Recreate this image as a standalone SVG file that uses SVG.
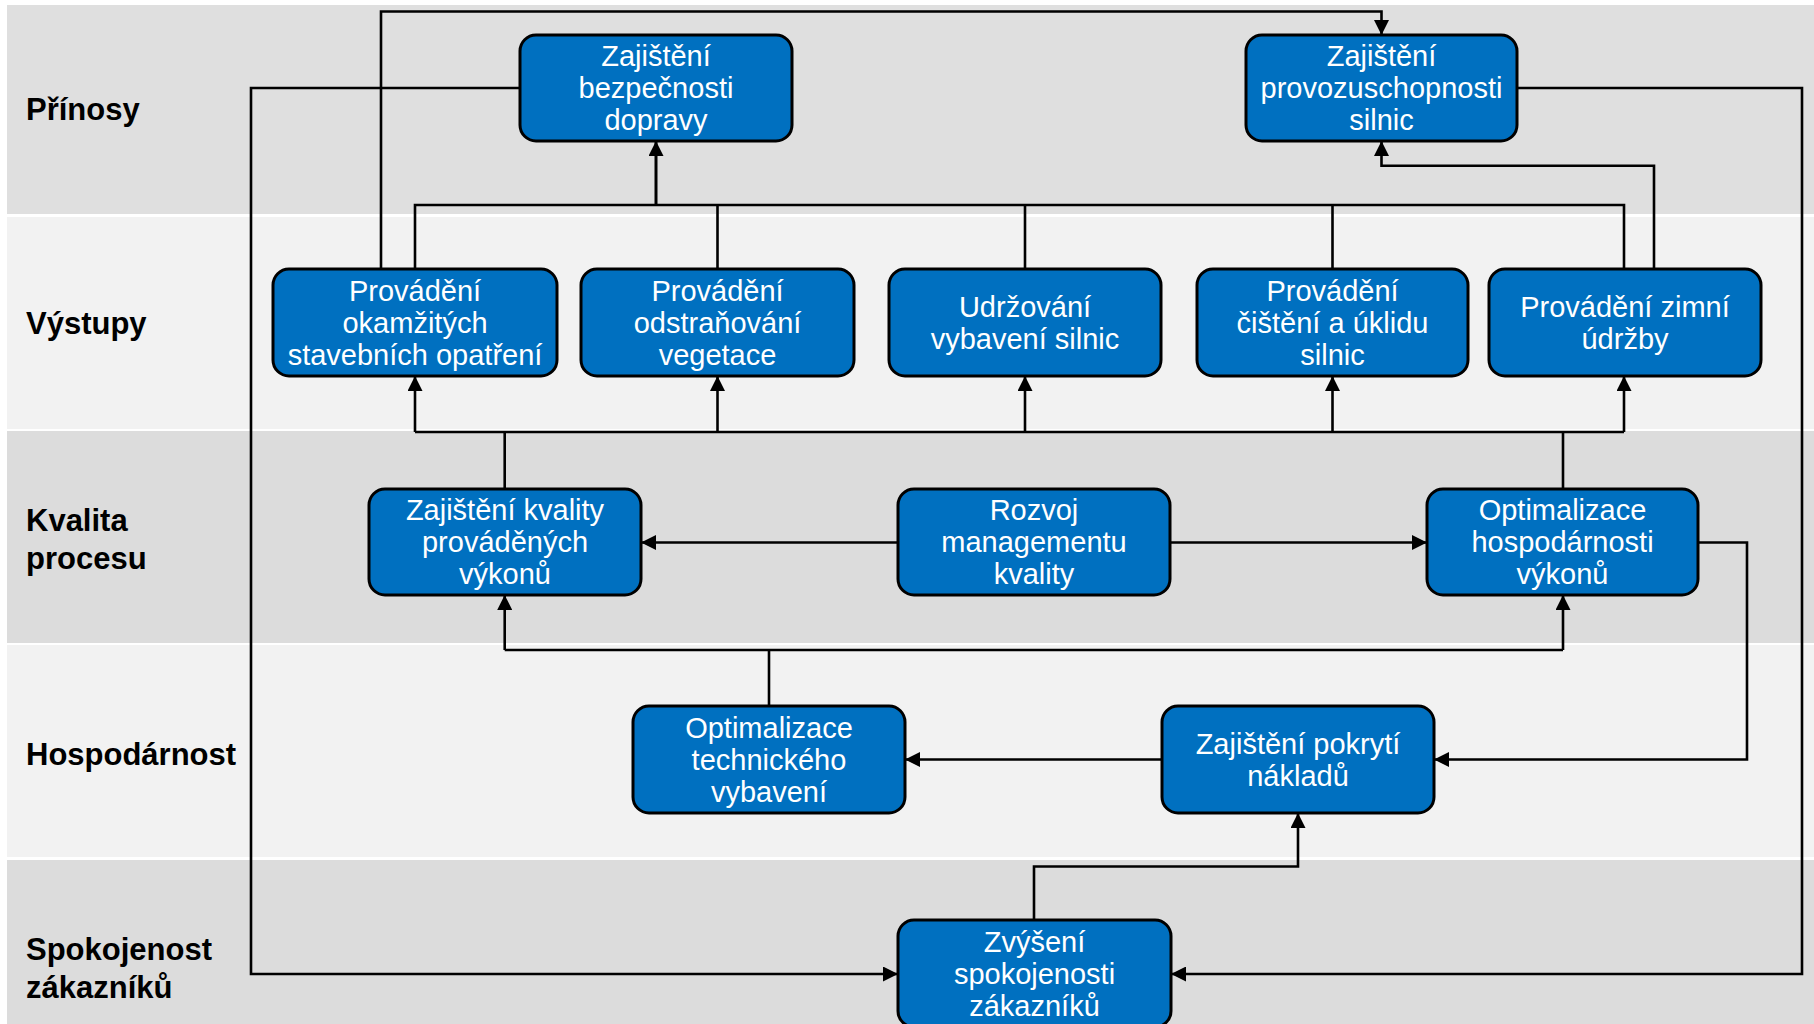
<svg xmlns="http://www.w3.org/2000/svg" width="1814" height="1024" viewBox="0 0 1814 1024">
<style>
.band-d{fill:#dcdcdc}
.band-t{fill:#dfdfdf}
.band-l{fill:#f2f2f2}
.lbl{font-family:"Liberation Sans",Arial,sans-serif;font-size:31px;font-weight:bold;fill:#000}
.box{fill:#0070c0;stroke:#000;stroke-width:3}
.txt{font-family:"Liberation Sans",Arial,sans-serif;font-size:29px;fill:#fff;text-anchor:middle}
.c{fill:none;stroke:#000;stroke-width:2.6;stroke-linejoin:miter}
.a{marker-end:url(#arr)}
</style>
<defs>
<marker id="arr" markerUnits="userSpaceOnUse" markerWidth="15" markerHeight="15" refX="14" refY="7" orient="auto" viewBox="0 0 14 14">
<path d="M0,0 L14,7 L0,14 z" fill="#000"/>
</marker>
</defs>
<rect width="1814" height="1024" fill="#fff"/>
<g id="bands">
<rect class="band-t" x="7" y="5" width="1807" height="209"/>
<rect class="band-l" x="7" y="217" width="1807" height="212"/>
<rect class="band-d" x="7" y="431" width="1807" height="212"/>
<rect class="band-l" x="7" y="645" width="1807" height="212"/>
<rect class="band-d" x="7" y="860" width="1807" height="164"/>
<text class="lbl" x="26" y="120">Přínosy</text>
<text class="lbl" x="26" y="334">Výstupy</text>
<text class="lbl" x="26" y="531">Kvalita</text>
<text class="lbl" x="26" y="569">procesu</text>
<text class="lbl" x="26" y="765">Hospodárnost</text>
<text class="lbl" x="26" y="960">Spokojenost</text>
<text class="lbl" x="26" y="998">zákazníků</text>
</g>
<g id="connectors">
<path class="c a" d="M381,269 V11.5 H1381.5 V35"/>
<path class="c a" d="M520,88 H251 V974 H898"/>
<path class="c a" d="M1517,88 H1802 V974 H1171"/>
<path class="c" d="M415,269 V205 H1624 V269"/>
<path class="c" d="M717.5,269 V205 M1025,269 V205 M1332.5,269 V205"/>
<path class="c a" d="M656,205 V141" style="stroke-width:3"/>
<path class="c a" d="M1654,269 V165.7 H1381.5 V141"/>
<path class="c" d="M415,432 H1624 M504.7,489 V432 M1563,489 V432"/>
<path class="c a" d="M415,432 V376"/>
<path class="c a" d="M717.5,432 V376"/>
<path class="c a" d="M1025,432 V376"/>
<path class="c a" d="M1332.5,432 V376"/>
<path class="c a" d="M1624,432 V376"/>
<path class="c a" d="M898,542.5 H641"/>
<path class="c a" d="M1170,542.5 H1427"/>
<path class="c" d="M504.7,650 H1563 M769,706 V650"/>
<path class="c a" d="M504.7,650 V595"/>
<path class="c a" d="M1563,650 V595"/>
<path class="c a" d="M1698,542.5 H1747 V759.5 H1434"/>
<path class="c a" d="M1162,759.5 H905"/>
<path class="c a" d="M1034,920 V866.5 H1298 V813"/>
</g>
<g id="n-bezpecnost">
<rect class="box" x="520" y="35" width="272" height="106" rx="16"/>
<text class="txt" x="656" y="66">Zajištění</text>
<text class="txt" x="656" y="98">bezpečnosti</text>
<text class="txt" x="656" y="130">dopravy</text>
</g>
<g id="n-provozuschopnost">
<rect class="box" x="1246" y="35" width="271" height="106" rx="16"/>
<text class="txt" x="1381.5" y="66">Zajištění</text>
<text class="txt" x="1381.5" y="98">provozuschopnosti</text>
<text class="txt" x="1381.5" y="130">silnic</text>
</g>
<g id="n-okamzita">
<rect class="box" x="273" y="269" width="284" height="107" rx="16"/>
<text class="txt" x="415" y="300.5">Provádění</text>
<text class="txt" x="415" y="332.5">okamžitých</text>
<text class="txt" x="415" y="364.5">stavebních opatření</text>
</g>
<g id="n-vegetace">
<rect class="box" x="581" y="269" width="273" height="107" rx="16"/>
<text class="txt" x="717.5" y="300.5">Provádění</text>
<text class="txt" x="717.5" y="332.5">odstraňování</text>
<text class="txt" x="717.5" y="364.5">vegetace</text>
</g>
<g id="n-vybaveni">
<rect class="box" x="889" y="269" width="272" height="107" rx="16"/>
<text class="txt" x="1025" y="316.5">Udržování</text>
<text class="txt" x="1025" y="348.5">vybavení silnic</text>
</g>
<g id="n-cisteni">
<rect class="box" x="1197" y="269" width="271" height="107" rx="16"/>
<text class="txt" x="1332.5" y="300.5">Provádění</text>
<text class="txt" x="1332.5" y="332.5">čištění a úklidu</text>
<text class="txt" x="1332.5" y="364.5">silnic</text>
</g>
<g id="n-zimni">
<rect class="box" x="1489" y="269" width="272" height="107" rx="16"/>
<text class="txt" x="1625" y="316.5">Provádění zimní</text>
<text class="txt" x="1625" y="348.5">údržby</text>
</g>
<g id="n-kvalita-vykonu">
<rect class="box" x="369" y="489" width="272" height="106" rx="16"/>
<text class="txt" x="505" y="520">Zajištění kvality</text>
<text class="txt" x="505" y="552">prováděných</text>
<text class="txt" x="505" y="584">výkonů</text>
</g>
<g id="n-rozvoj">
<rect class="box" x="898" y="489" width="272" height="106" rx="16"/>
<text class="txt" x="1034" y="520">Rozvoj</text>
<text class="txt" x="1034" y="552">managementu</text>
<text class="txt" x="1034" y="584">kvality</text>
</g>
<g id="n-hospodarnost">
<rect class="box" x="1427" y="489" width="271" height="106" rx="16"/>
<text class="txt" x="1562.5" y="520">Optimalizace</text>
<text class="txt" x="1562.5" y="552">hospodárnosti</text>
<text class="txt" x="1562.5" y="584">výkonů</text>
</g>
<g id="n-technicke">
<rect class="box" x="633" y="706" width="272" height="107" rx="16"/>
<text class="txt" x="769" y="737.5">Optimalizace</text>
<text class="txt" x="769" y="769.5">technického</text>
<text class="txt" x="769" y="801.5">vybavení</text>
</g>
<g id="n-naklady">
<rect class="box" x="1162" y="706" width="272" height="107" rx="16"/>
<text class="txt" x="1298" y="753.5">Zajištění pokrytí</text>
<text class="txt" x="1298" y="785.5">nákladů</text>
</g>
<g id="n-spokojenost">
<rect class="box" x="898" y="920" width="273" height="107" rx="16"/>
<text class="txt" x="1034.5" y="951.5">Zvýšení</text>
<text class="txt" x="1034.5" y="983.5">spokojenosti</text>
<text class="txt" x="1034.5" y="1015.5">zákazníků</text>
</g>
</svg>
